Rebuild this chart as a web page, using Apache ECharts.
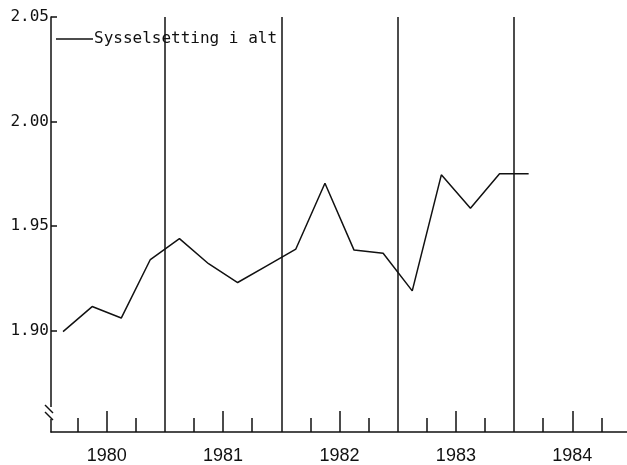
<!DOCTYPE html>
<html>
<head>
<meta charset="utf-8">
<script src="https://cdn.jsdelivr.net/npm/echarts@6/dist/echarts.min.js"></script>
<style>
    html, body { margin: 0; padding: 0; background: #fff; }
    #chart_con { width: 627px; height: 465px; }
</style>
</head>
<body>
<div id="chart_con"></div>
<script>
// kvartalstall 1980K1 - 1984K1
const quarters = ['1980K1', '1980K2', '1980K3', '1980K4',
                  '1981K1', '1981K2', '1981K3', '1981K4',
                  '1982K1', '1982K2', '1982K3', '1982K4',
                  '1983K1', '1983K2', '1983K3', '1983K4',
                  '1984K1'];
const sysselsetting = [1.8995, 1.9115, 1.906, 1.934,
                       1.944, 1.932, 1.923, 1.931,
                       1.939, 1.9705, 1.9385, 1.937,
                       1.919, 1.9745, 1.9585, 1.975,
                       1.975];
const years = ['1980', '1981', '1982', '1983', '1984'];
const yTicks = [1.90, 1.95, 2.00, 2.05];

// x in quarters from start of 1980
const lineData = quarters.map((q, i) => [i + 0.5, sysselsetting[i]]);
const quarterTicks = [];
for (let i = 1; i < years.length * 4; i++) {
    if (i % 4 !== 0) quarterTicks.push(i);
}
const midYear = years.map((y, i) => i * 4 + 2);
const yearBounds = years.slice(1).map((y, i) => (i + 1) * 4);

const xMin = 0.086, xMax = 19.88;
const black = '#111';
const mono = "'DejaVu Sans Mono', monospace";

let chart = echarts.init(document.getElementById('chart_con'));

const option = {
    animation: false,
    backgroundColor: '#fff',
    grid: {
        left: 51,
        right: 0,
        top: 17,
        bottom: 32,
        containLabel: false
    },
    legend: {
        left: 56,
        top: 31,
        padding: 0,
        icon: 'rect',
        itemWidth: 37,
        itemHeight: 1.5,
        itemGap: 0,
        itemStyle: {color: black},
        textStyle: {
            fontFamily: mono,
            fontSize: 16,
            color: black,
            padding: [0, 0, 0, -4]
        },
        data: ['Sysselsetting i alt']
    },
    xAxis: [
        {
            type: 'value',
            position: 'bottom',
            min: xMin,
            max: xMax,
            axisLine: {lineStyle: {color: black, width: 1.5}},
            axisTick: {
                inside: true,
                length: 14,
                customValues: quarterTicks,
                lineStyle: {color: black, width: 1.5}
            },
            axisLabel: {
                customValues: midYear,
                formatter: v => years[Math.round((v - 2) / 4)],
                margin: 15,
                color: black,
                fontSize: 18,
                fontFamily: "'Liberation Sans', sans-serif"
            },
            splitLine: {show: false}
        },
        {
            type: 'value',
            position: 'bottom',
            offset: 0,
            min: xMin,
            max: xMax,
            axisLine: {show: false},
            axisTick: {
                inside: true,
                length: 21,
                customValues: midYear,
                lineStyle: {color: black, width: 1.5}
            },
            axisLabel: {show: false},
            splitLine: {show: false}
        },
        {
            type: 'value',
            position: 'bottom',
            offset: 0,
            min: xMin,
            max: xMax,
            axisLine: {show: false},
            axisTick: {show: false, customValues: yearBounds},
            axisLabel: {show: false},
            splitLine: {show: true, lineStyle: {color: black, width: 1.5}}
        }
    ],
    yAxis: {
        type: 'value',
        min: 1.8515,
        max: 2.05,
        axisLine: {show: true, lineStyle: {color: black, width: 1.5}},
        axisTick: {
            show: true,
            inside: true,
            length: 6,
            customValues: yTicks,
            lineStyle: {color: black, width: 1.5}
        },
        axisLabel: {
            customValues: yTicks,
            formatter: v => v.toFixed(2),
            margin: 2,
            color: black,
            fontSize: 16,
            fontFamily: mono
        },
        splitLine: {show: false}
    },
    graphic: [
        {
            type: 'rect',
            shape: {x: 48, y: 407, width: 6, height: 12},
            style: {fill: '#fff'},
            z: 100
        },
        {
            type: 'line',
            shape: {x1: 45, y1: 405, x2: 53, y2: 413},
            style: {stroke: black, lineWidth: 1.5},
            z: 101
        },
        {
            type: 'line',
            shape: {x1: 45, y1: 412, x2: 53, y2: 420},
            style: {stroke: black, lineWidth: 1.5},
            z: 101
        }
    ],
    series: [
        {
            name: 'Sysselsetting i alt',
            type: 'line',
            data: lineData,
            symbol: 'none',
            lineStyle: {color: black, width: 1.5},
            itemStyle: {color: black}
        }
    ]
};

chart.setOption(option);

window.addEventListener('resize', function () {
    chart.resize();
});
</script>
</body>
</html>
